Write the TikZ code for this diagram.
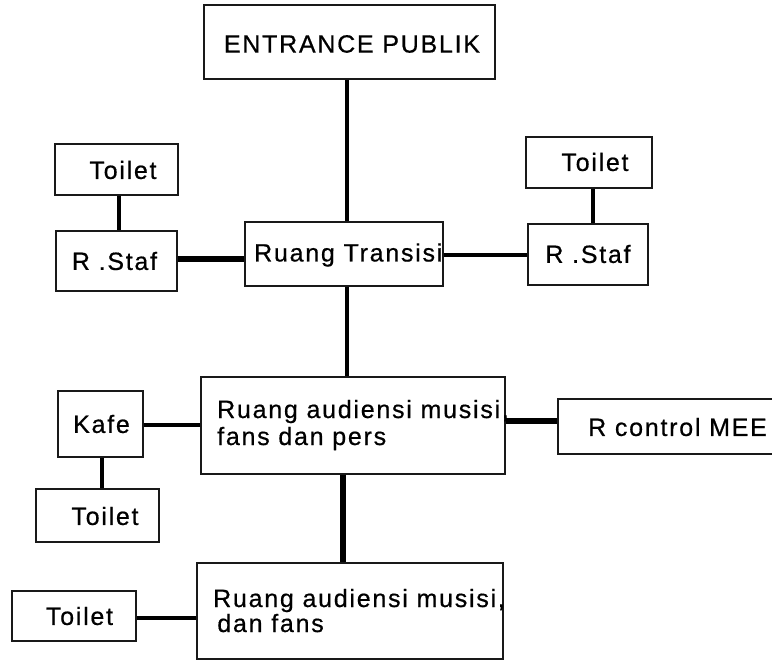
\documentclass[tikz,border=0pt]{standalone}
\usepackage{fontspec}
\setmainfont{Liberation Sans}[LetterSpace=7, FakeBold=0.6]
\begin{document}
\begin{tikzpicture}[x=1pt, y=-1pt,
  room/.style={draw=black!90, line width=1.2pt, rectangle, inner sep=0pt, fill=none},
  lbl/.style={inner sep=0pt, font=\fontsize{25}{27}\selectfont, align=left},
  link/.style={line width=3.6pt, black},
  heavy/.style={line width=5.5pt, black}]
\useasboundingbox (0,0) rectangle (772,663);

% rooms
\node[room, minimum width=291pt, minimum height=74pt] (entr) at (349.5,42) {};
\node[lbl] (entrT) at (352,44) {ENTRANCE PUBLIK};

\node[room, minimum width=198pt, minimum height=64pt] (trans) at (344,254) {};
\node[lbl, anchor=west] (transT) at (254,255) {Ruang Transisi};

\node[room, minimum width=123pt, minimum height=51pt] (toiL) at (116.5,169.5) {};
\node[lbl] (toiLT) at (123,170) {Toilet};

\node[room, minimum width=121pt, minimum height=60pt] (stafL) at (116.5,261) {};
\node[lbl] (stafLT) at (114.5,261) {R .Staf};

\node[room, minimum width=126pt, minimum height=51pt] (toiR) at (589,162.5) {};
\node[lbl] (toiRT) at (595,162) {Toilet};

\node[room, minimum width=120pt, minimum height=61pt] (stafR) at (588,254.5) {};
\node[lbl] (stafRT) at (588,254) {R .Staf};

\node[room, minimum width=304pt, minimum height=97pt] (aud1) at (353,425.5) {};
\node[lbl, anchor=base west] (aud1T) at (217,445) {Ruang audiensi musisi,\\fans dan pers};

\node[room, minimum width=85pt, minimum height=66pt] (kafe) at (100.5,424) {};
\node[lbl] (kafeT) at (101.5,424) {Kafe};

\node[room, minimum width=123pt, minimum height=53pt] (toiK) at (97.5,515.5) {};
\node[lbl] (toiKT) at (105,516) {Toilet};

\node[room, minimum width=222pt, minimum height=55pt] (ctrl) at (669,426.5) {};
\node[lbl, anchor=west] (ctrlT) at (588,427) {R control MEE};

\node[room, minimum width=306pt, minimum height=96pt] (aud2) at (350,611) {};
\node[lbl, anchor=base west] (aud2T) at (213,632) {Ruang audiensi musisi,\\[-2pt] \,dan fans};

\node[room, minimum width=124pt, minimum height=50pt] (toiB) at (74,616) {};
\node[lbl] (toiBT) at (79.5,616) {Toilet};

% connections
\draw[link] ([xshift=-2.5pt]entr.south) -- ([xshift=-2.5pt]entr.south |- trans.north);
\draw[link] ([xshift=3pt]trans.south) -- ([xshift=3pt]trans.south |- aud1.north);
\draw[heavy] ([xshift=-10pt]aud1.south) -- ([xshift=-10pt]aud1.south |- aud2.north);
\draw[heavy] ([yshift=2pt]stafL.east) -- ([yshift=2pt]stafL.east -| trans.west);
\draw[link] ([yshift=-1pt]trans.east) -- ([yshift=-1pt]trans.east -| stafR.west);
\draw[link] ([xshift=2.5pt]toiL.south) -- ([xshift=2.5pt]toiL.south |- stafL.north);
\draw[link] ([xshift=4pt]toiR.south) -- ([xshift=4pt]toiR.south |- stafR.north);
\draw[link] ([yshift=-1pt]kafe.east) -- ([yshift=-1pt]kafe.east -| aud1.west);
\draw[link] ([xshift=1.5pt]kafe.south) -- ([xshift=1.5pt]kafe.south |- toiK.north);
\draw[heavy] ([yshift=4.5pt]aud1.east) -- ([yshift=4.5pt]aud1.east -| ctrl.west);
\draw[link] ([yshift=-2pt]toiB.east) -- ([yshift=-2pt]toiB.east -| aud2.west);
\end{tikzpicture}
\end{document}
